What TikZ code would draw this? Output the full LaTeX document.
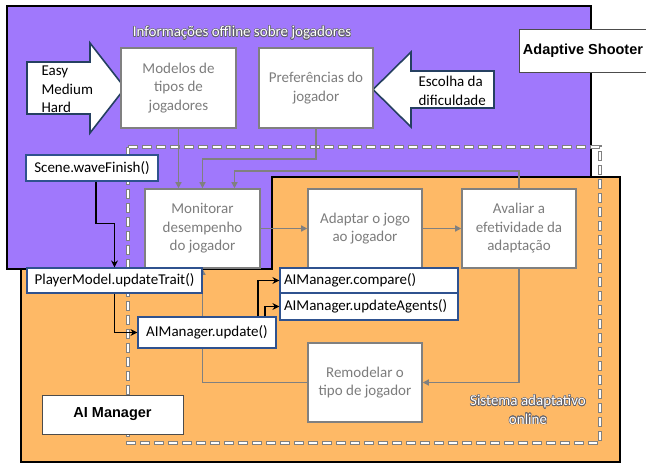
\documentclass[tikz,border=0pt]{standalone}
\usepackage{fontspec}
\setmainfont{Carlito}
\newfontfamily\arialf{Liberation Sans}
\usepackage[copies]{contour}
\contourlength{0.6pt}
\usetikzlibrary{arrows.meta}
\definecolor{purplebg}{RGB}{160,120,252}
\definecolor{orangebg}{RGB}{254,185,102}
\definecolor{boxgray}{RGB}{128,128,128}
\definecolor{textgray}{RGB}{125,125,125}
\definecolor{outlinegray}{RGB}{100,100,110}
\definecolor{codeblue}{RGB}{47,82,143}
\definecolor{arrowblue}{RGB}{37,64,97}
\tikzset{
  txt/.style={font=\fontsize{15}{18.5}\selectfont},
  graybox/.style={txt, draw=boxgray, line width=1.6, fill=white, text=textgray, align=center, inner sep=2},
  codebox/.style={txt, draw=codeblue, line width=1.2, fill=white, text=black, inner sep=2},
  labelbox/.style={draw=black!70, line width=0.8, fill=white, font=\arialf\bfseries\fontsize{14.5}{17}\selectfont},
  grayconn/.style={draw=boxgray, line width=1.5, -{Triangle[length=6,width=6]}},
  blackconn/.style={draw=black, line width=1.3, -{Stealth[length=7,width=7]}},
  blockarrow/.style={draw=arrowblue, line width=1.6, fill=white, line join=miter},
  dashouter/.style={draw=gray, line width=3.4, dash pattern=on 10 off 4},
  dashinner/.style={draw=white, line width=1.6, dash pattern=on 8 off 6, dash phase=13},
}
\begin{document}
\begin{tikzpicture}[x=1pt,y=-1pt]
\useasboundingbox (0,0) rectangle (646,463);
% backgrounds
\draw[fill=purplebg, line width=1.2] (7,6) rectangle (591,269);
\draw[fill=orangebg, line width=1.2] (21,269) -- (272,269) -- (272,177) -- (620,177) -- (620,462) -- (21,462) -- cycle;
% dashed online region
\draw[dashouter] (128,147) rectangle (600,443);
\draw[dashinner] (128,147) rectangle (600,443);
% titles
\node[txt, text=white] (titleoff) at (242,33) {\contour{outlinegray}{Informações offline sobre jogadores}};
\node[txt, text=white, align=center] (titleon) at (528,410) {\contour{outlinegray}{Sistema adaptativo}\\\contour{outlinegray}{online}};
% label boxes
\node[labelbox, minimum width=124, minimum height=43] (shooter) at (583,50.5) {Adaptive Shooter};
\node[labelbox, minimum width=141, minimum height=39] (aimgr) at (112.5,414.5) {AI Manager};
% block arrows
\draw[blockarrow] (27,62) -- (90,62) -- (90,43) -- (125,88) -- (90,133) -- (90,114) -- (27,114) -- cycle;
\node[txt, anchor=west, align=left] (easy) at (38,89.5) {Easy\\Medium\\Hard};
\draw[blockarrow] (373,89.5) -- (411,52) -- (411,71) -- (494,71) -- (494,108) -- (411,108) -- (411,127) -- cycle;
\node[txt, anchor=west, align=left] (escolha) at (415,91) {Escolha da\\dificuldade};
% gray process boxes
\node[graybox, minimum width=115, minimum height=80] (modelos) at (178.5,88) {Modelos de\\tipos de\\jogadores};
\node[graybox, minimum width=114, minimum height=80] (pref) at (316,88) {Preferências do\\jogador};
\node[graybox, minimum width=115, minimum height=79] (monitor) at (202.5,228.5) {Monitorar\\desempenho\\do jogador};
\node[graybox, minimum width=114, minimum height=79] (adaptar) at (365,228.5) {Adaptar o jogo\\ao jogador};
\node[graybox, minimum width=114, minimum height=79] (avaliar) at (519,228.5) {Avaliar a\\efetividade da\\adaptação};
\node[graybox, minimum width=114, minimum height=79] (remodelar) at (365,382.5) {Remodelar o\\tipo de jogador};
% gray connectors
\draw[grayconn] (modelos.south) -- (modelos.south |- monitor.north);
\draw[grayconn] (pref.south) -- ++(0,30) -| (monitor.north);
\draw[grayconn] (avaliar.north) -- ++(0,-17) -| ([xshift=32]monitor.north);
\draw[grayconn] (monitor.east) -- (adaptar.west);
\draw[grayconn] (adaptar.east) -- (avaliar.west);
\draw[grayconn] (avaliar.south) |- (remodelar.east);
\draw[grayconn] (remodelar.west) -| (monitor.south);
% code boxes
\node[codebox, minimum width=132, minimum height=26] (scene) at (92,168) {Scene.waveFinish()};
\node[codebox, minimum width=175, minimum height=25] (player) at (114.5,280.5) {PlayerModel.updateTrait()};
\node[codebox, minimum width=138, minimum height=31] (update) at (207,332.5) {AIManager.update()};
\node[codebox, minimum width=178, minimum height=25, text width=170, align=left] (compare) at (369,280.5) {AIManager.compare()};
\node[codebox, minimum width=178, minimum height=27, text width=170, align=left] (agents) at (369,306.5) {AIManager.updateAgents()};
% black connectors
\draw[blackconn] ([xshift=4]scene.south) -- ++(0,42) -| (player.north);
\draw[blackconn] (player.south) |- (update.west);
\draw[blackconn] ([xshift=51]update.north) |- (compare.west);
\draw[blackconn] ([xshift=58]update.north) |- (agents.west);
\end{tikzpicture}
\end{document}
